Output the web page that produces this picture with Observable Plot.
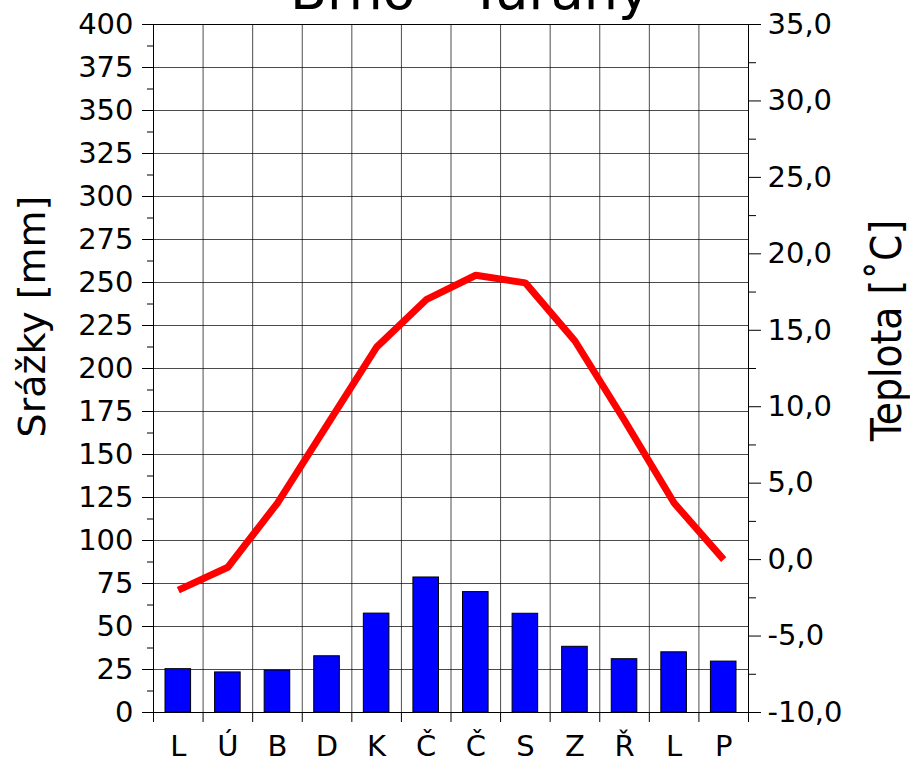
<!DOCTYPE html>
<html><head><meta charset="utf-8">
<script src="https://cdn.jsdelivr.net/npm/d3@7"></script>
<script src="https://cdn.jsdelivr.net/npm/@observablehq/plot@0.6"></script>
<style>
body{margin:0;background:#fff;}
#chart{position:relative;width:910px;height:761px;overflow:hidden;}
</style>
</head><body><div id="chart"></div>
<script>
const months = ["L","Ú","B","D","K","Č","Č","S","Z","Ř","L","P"];
const precipitation = [25.2, 23.3, 24.4, 32.7, 57.5, 78.5, 70.0, 57.4, 38.2, 31.0, 35.0, 29.6];
const temperature = [-2.0, -0.5, 3.7, 8.8, 13.9, 17.0, 18.6, 18.1, 14.3, 9.1, 3.7, 0.0];
const mmTicks = d3.range(0, 401, 25);
const mmMinorTicks = d3.range(12.5, 400, 25);
const tempTicks = d3.range(-10, 35.1, 5);
const tempMinorTicks = d3.range(-7.5, 35, 5);
const title = "Brno - Tuřany";
const yLabel = "Srážky [mm]";
const y2Label = "Teplota [˚C]";

const T0 = -10, T1 = 35, P1 = 400;
const toMM = t => (t - T0) * P1 / (T1 - T0);
const fromMM = v => v * (T1 - T0) / P1 + T0;
const fmtT = v => { const t = Math.round(fromMM(v) * 10) / 10; return t.toFixed(1).replace(".", ","); };
const data = months.map((m, i) => ({i, m, p: precipitation[i], t: temperature[i]}));
const bounds = d3.range(0, months.length + 1);
const centers = d3.range(0, months.length).map(i => i + 0.5);

const plot = Plot.plot({
  width: 910, height: 761,
  marginLeft: 153, marginRight: 162, marginTop: 24, marginBottom: 49,
  style: {fontFamily: "'DejaVu Sans', sans-serif", background: "white", color: "black", overflow: "visible"},
  x: {type: "linear", domain: [0, 12]},
  y: {domain: [0, 400]},
  marks: [
    Plot.gridY(mmTicks, {stroke: "#000", strokeOpacity: 0.7}),
    Plot.gridX(bounds, {stroke: "#000", strokeOpacity: 0.7}),
    Plot.rectY(data, {x1: d => d.i, x2: d => d.i + 1, y: "p", insetLeft: 12, insetRight: 12, fill: "#0000ff", stroke: "#000", strokeWidth: 1}),
    Plot.line(data, {x: d => d.i + 0.5, y: d => toMM(d.t), stroke: "#ff0000", strokeWidth: 7, strokeLinejoin: "miter", strokeLinecap: "butt"}),
    Plot.frame({stroke: "#000"}),
    Plot.axisY(mmTicks, {anchor: "left", tickSize: 11, tickPadding: 9, fontSize: 29, label: null, tickFormat: d => String(d)}),
    Plot.axisY(mmMinorTicks, {anchor: "left", tickSize: 6, label: null, tickFormat: () => ""}),
    Plot.axisY(tempTicks.map(toMM), {anchor: "right", tickSize: 12, tickPadding: 7, fontSize: 29, label: null, tickFormat: fmtT}),
    Plot.axisY(tempMinorTicks.map(toMM), {anchor: "right", tickSize: 7, label: null, tickFormat: () => ""}),
    Plot.axisX(bounds, {tickSize: 10, label: null, tickFormat: () => ""}),
    Plot.axisX(centers, {tickSize: 0, tickPadding: 23, fontSize: 29, label: null, tickFormat: d => months[Math.floor(d)]}),
    Plot.text([title], {frameAnchor: "top", dy: -16, dx: 19, fontSize: 54, lineAnchor: "bottom", textAnchor: "middle", text: d => d}),
    Plot.text([yLabel], {frameAnchor: "left", rotate: -90, dx: -121, dy: -52, fontSize: 38, lineAnchor: "middle", textAnchor: "middle", text: d => d}),
    Plot.text([y2Label], {frameAnchor: "right", rotate: -90, dx: 139, dy: -38, fontSize: 42, lineAnchor: "middle", textAnchor: "middle", fontFamily: "'DejaVu Sans Condensed', 'DejaVu Sans', sans-serif", text: d => d})
  ]
});
document.getElementById("chart").appendChild(plot);
</script>
</body></html>
